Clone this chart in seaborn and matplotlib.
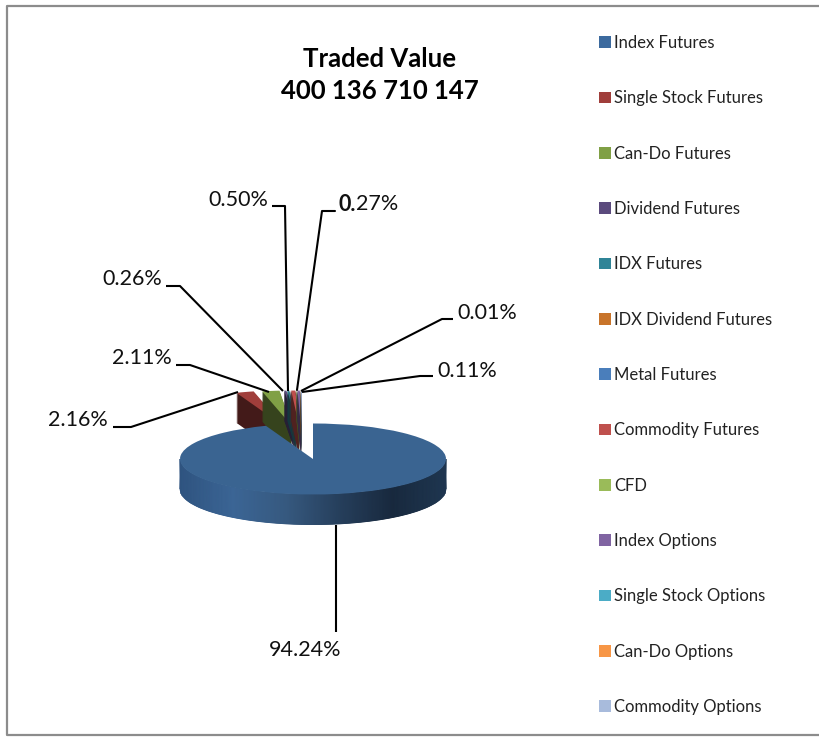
import matplotlib
matplotlib.use('Agg')
import matplotlib.pyplot as plt
import numpy as np
import seaborn as sns
from matplotlib.colors import LinearSegmentedColormap, to_rgb
from matplotlib.patches import Patch

# Data
categories = ['Index Futures', 'Single Stock Futures', 'Can-Do Futures', 'Dividend Futures',
              'IDX Futures', 'IDX Dividend Futures', 'Metal Futures', 'Commodity Futures',
              'CFD', 'Index Options', 'Single Stock Options', 'Can-Do Options', 'Commodity Options']
shares = [94.24, 2.16, 2.11, 0.26, 0.23, 0.02, 0.02, 0.50, 0.05, 0.27, 0.01, 0.02, 0.11]
colors = ['#3c6a9e', '#a03e3b', '#80a045', '#5b4a7d', '#2f8497', '#c8742a', '#4a7ebb',
          '#bf504d', '#9abb59', '#8064a2', '#4bacc6', '#f79646', '#a8bbdc']
title = 'Traded Value\n400 136 710 147'

# label text, text centre, leader line in pixels
labels = [
    ('94.24%', (305, 650), [(336, 525), (336, 632)]),
    ('2.16%', (78, 420), [(113, 427), (131, 427), (238, 392)]),
    ('2.11%', (142, 358), [(176, 365), (190, 365), (269, 392)]),
    ('0.26%', (132, 279), [(166, 286), (180, 286), (283, 391)]),
    ('0.50%', (238, 200), [(272, 206), (285, 206), (288, 391)]),
    ('0.01%', (487, 313), [(453, 319), (442, 319), (301, 391)]),
    ('0.11%', (467, 371), [(433, 376), (420, 376), (302, 392)]),
]

sns.set_theme(style='white')
plt.rcParams['font.family'] = ['Lato', 'DejaVu Sans']

W, H = 820, 737
CX, CY, RX, RY = 313, 459, 133, 35.5
DEPTH = 30

fig = plt.figure(figsize=(W / 100, H / 100), dpi=100)
ax = fig.add_axes([0, 0, 1, 1])


def draw_wedge(i, dx, dy, color, zorder):
    # one slice out of the full pie, dx/dy in pixels
    wedges, _ = ax.pie(shares, startangle=90, counterclock=False,
                       center=(dx / RX, -dy / RY), colors=colors)
    for j, w in enumerate(wedges):
        if j == i:
            w.set_facecolor(color)
            w.set_linewidth(0)
            w.set_zorder(zorder)
        else:
            w.remove()


# exploded small slices, left to right
cum = np.cumsum(shares)
for i in range(1, len(shares)):
    mid = 360 - (cum[i] - shares[i] / 2) * 3.6
    dx = -11 - 1.1 * mid
    dy = -33
    dark = tuple(c * 0.42 for c in to_rgb(colors[i]))
    for d in range(DEPTH, 0, -1):
        draw_wedge(i, dx, dy + d, dark, 2 + i * 0.01)
    draw_wedge(i, dx, dy, colors[i], 2 + i * 0.01)

# main slice: gradient side then top face
x = np.linspace(-1, 1, 240)
top = -np.sqrt(1 - x ** 2)
X = np.vstack([x, x])
Y = np.vstack([top - DEPTH / RY, top])
side_cmap = LinearSegmentedColormap.from_list(
    'side', ['#2f5480', '#3b6595', '#36597f', '#263f5c', '#18293e', '#1e3650'])
ax.pcolormesh(X, Y, np.vstack([x, x]), cmap=side_cmap, shading='gouraud', zorder=3)
draw_wedge(0, 0, 0, '#3a6491', 4)

ax.set_aspect('auto')
ax.set_xlim(-CX / RX, (W - CX) / RX)
ax.set_ylim((CY - H) / RY, CY / RY)
ax.axis('off')

# overlay in pixel coordinates for text, leaders and legend
ov = fig.add_axes([0, 0, 1, 1], facecolor='none')
ov.set_xlim(0, W)
ov.set_ylim(H, 0)
ov.axis('off')

# chart frame runs off the right side of the crop
ov.plot([W, 7.5, 7.5, W], [5.5, 5.5, 734.5, 734.5], color='#8c8c8c', linewidth=1.6)
ov.text(380, 75, title, ha='center', va='center', fontsize=18.5, fontweight='bold',
        color='black', linespacing=1.42)

for text, (tx, ty), line in labels:
    xs, ys = zip(*line)
    ov.plot(xs, ys, color='black', linewidth=1.5, solid_capstyle='butt')
    ov.text(tx, ty, text, ha='center', va='center', fontsize=15.5, color='#111111')

# 0.27% has a bold first part in the original
ov.plot([335, 322, 297], [211, 211, 390], color='black', linewidth=1.5)
ov.text(339, 204, '0.', ha='left', va='center', fontsize=15.5, fontweight='bold', color='#111111')
ov.text(398, 204, '27%', ha='right', va='center', fontsize=15.5, color='#111111')

handles = [Patch(facecolor=c, linewidth=0) for c in colors]
ov.legend(handles, categories, loc='upper left', bbox_to_anchor=(599, 35),
          bbox_transform=ov.transData, frameon=False, fontsize=12, labelcolor='#222222',
          handlelength=0.7, handleheight=0.7, handletextpad=0.2, borderpad=0,
          borderaxespad=0, labelspacing=2.36)

fig.savefig('out.png', dpi=100)
